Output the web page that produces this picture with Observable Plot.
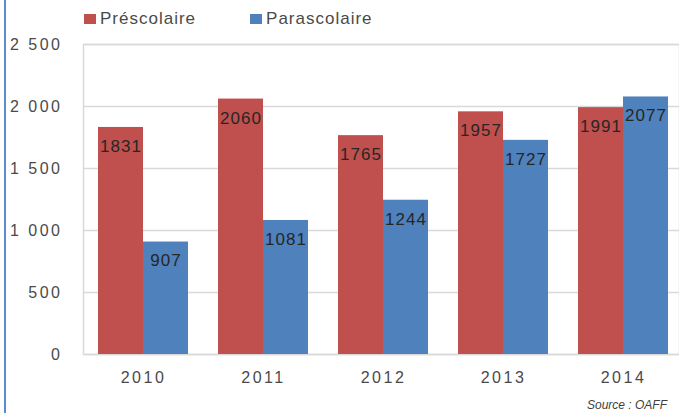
<!DOCTYPE html>
<html>
<head>
<meta charset="utf-8">
<script src="https://cdn.jsdelivr.net/npm/d3@7"></script>
<script src="https://cdn.jsdelivr.net/npm/@observablehq/plot@0.6"></script>
<style>
  html, body { margin: 0; padding: 0; background: #fff; }
  #wrap { position: relative; width: 679px; height: 413px; overflow: hidden; font-family: "Liberation Sans", Arial, sans-serif; }
  #edge { position: absolute; left: 4px; top: 0; width: 2px; height: 413px; background: #5b8bd0; }
  #legend { position: absolute; left: 84px; top: 9px; display: flex; gap: 0; font-size: 17px; letter-spacing: 1px; color: #4a4a4a; }
  .item { display: flex; align-items: center; margin-right: 54px; }
  .sw { width: 12px; height: 10px; margin-right: 4px; }
  #source { position: absolute; right: 12px; top: 398px; font-size: 12px; font-style: italic; color: #404040; }
  #chart { position: absolute; left: 0; top: 0; }
</style>
</head>
<body>
<div id="wrap">
  <div id="chart"></div>
  <div id="edge"></div>
  <div id="legend"></div>
  <div id="source">Source : OAFF</div>
</div>
<script>
const years = ["2010", "2011", "2012", "2013", "2014"];
const series = ["Préscolaire", "Parascolaire"];
const prescolaire = [1831, 2060, 1765, 1957, 1991];
const parascolaire = [907, 1081, 1244, 1727, 2077];
const colors = ["#c0504d", "#4f81bd"];
const yTicks = [0, 500, 1000, 1500, 2000, 2500];

const rows = [];
years.forEach((y, i) => {
  rows.push({year: y, series: series[0], value: prescolaire[i]});
  rows.push({year: y, series: series[1], value: parascolaire[i]});
});
const pre = rows.filter(d => d.series === series[0]);
const para = rows.filter(d => d.series === series[1]);

const fmt = d3.formatLocale({thousands: " ", grouping: [3], decimal: ","}).format(",");

const plot = Plot.plot({
  width: 679,
  height: 413,
  marginLeft: 83,
  marginRight: 0,
  marginTop: 44,
  marginBottom: 59,
  style: {fontFamily: "Liberation Sans, Arial, sans-serif", background: "transparent"},
  x: {domain: years, range: [83, 683], paddingInner: 0.25, paddingOuter: 0.125, label: null},
  y: {domain: [0, 2500], label: null},
  color: {domain: series, range: colors},
  marks: [
    Plot.gridY(yTicks, {stroke: "#d9d9d9", strokeOpacity: 1, strokeWidth: 1.5}),
    Plot.frame({stroke: "#d9d9d9", strokeWidth: 1.5}),
    Plot.axisY({ticks: yTicks, tickSize: 0, tickPadding: 21, tickFormat: fmt, fontSize: 16, fill: "#4a4a4a", label: null}),
    Plot.axisX({tickSize: 0, tickPadding: 17, fontSize: 16, fill: "#4a4a4a", label: null}),
    Plot.barY(pre, {x: "year", y: "value", fill: "series", insetRight: 45}),
    Plot.barY(para, {x: "year", y: "value", fill: "series", insetLeft: 45}),
    Plot.text(pre, {x: "year", y: "value", text: d => String(d.value), dx: -22.5, dy: 19, fontSize: 17, fill: "#262626"}),
    Plot.text(para, {x: "year", y: "value", text: d => String(d.value), dx: 22.5, dy: 19, fontSize: 17, fill: "#262626"})
  ]
});
d3.select(plot).selectAll("[aria-label='y-axis tick label'] text, [aria-label='x-axis tick label'] text").style("letter-spacing", "2.5px");
d3.select(plot).selectAll("[aria-label='text'] text").style("letter-spacing", "1px");
document.getElementById("chart").appendChild(plot);

const legend = document.getElementById("legend");
series.forEach((s, i) => {
  const it = document.createElement("div");
  it.className = "item";
  const sw = document.createElement("div");
  sw.className = "sw";
  sw.style.background = colors[i];
  const lab = document.createElement("span");
  lab.textContent = s;
  it.appendChild(sw);
  it.appendChild(lab);
  legend.appendChild(it);
});
</script>
</body>
</html>
